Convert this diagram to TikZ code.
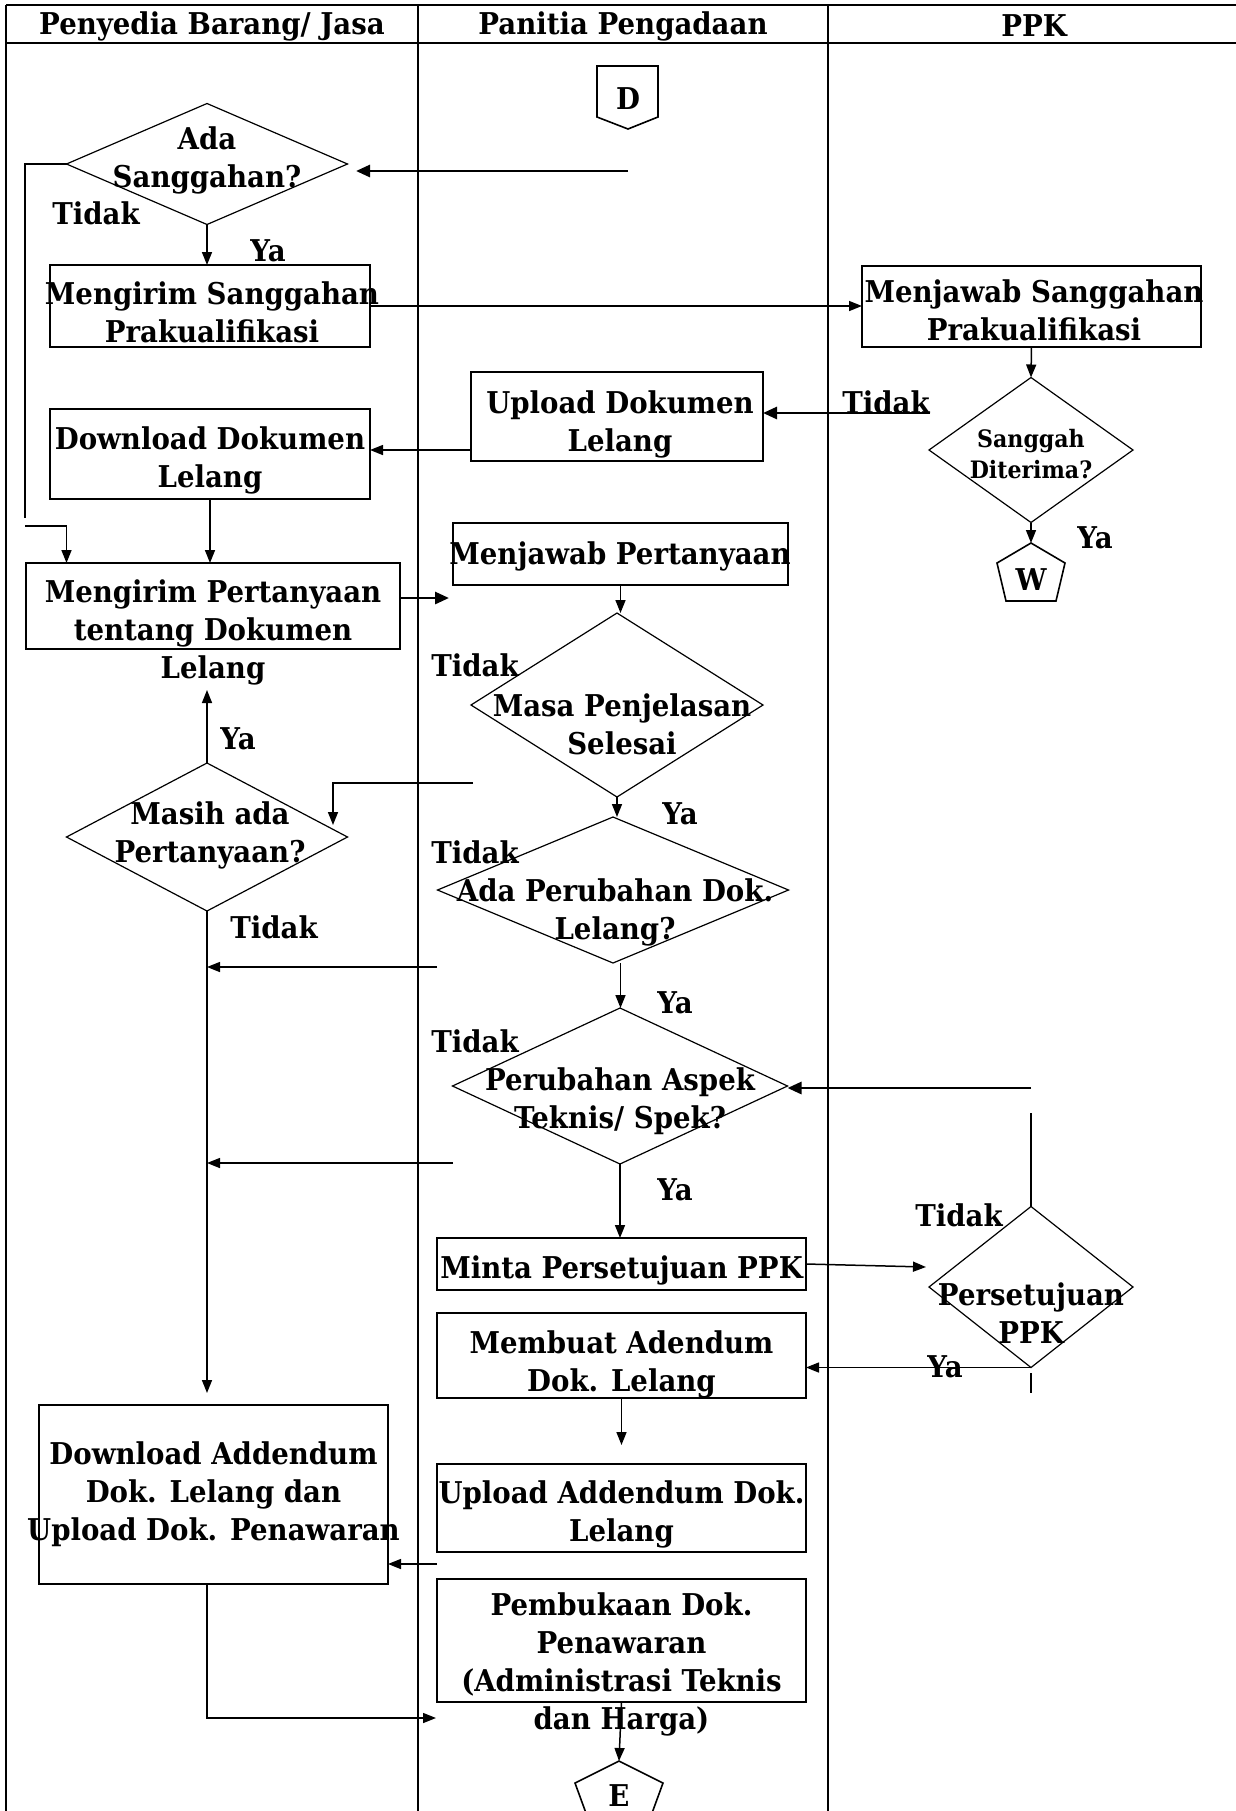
\documentclass[tikz,border=0pt]{standalone}
\usepackage{fontspec}
\setmainfont{DejaVu Serif}[FakeStretch=0.92]
\usetikzlibrary{shapes.geometric,arrows.meta,calc}

\begin{document}
\begin{tikzpicture}[x=0.5pt,y=-0.5pt,
  every node/.style={font=\bfseries\fontsize{15}{19}\selectfont, inner sep=0pt, outer sep=0pt},
  box/.style={draw, line width=1pt, rectangle},
  dia/.style={draw, diamond, line width=0.6pt},
  txt/.style={align=center, yshift=-1.5pt},
  small/.style={align=center, yshift=-1pt, font=\bfseries\fontsize{12}{15.5}\selectfont},
  head/.style={yshift=-1pt},
  arr/.style={-{Triangle[length=6.5pt,width=5pt]}, line width=0.75pt},
  heavy/.style={-{Triangle[length=7pt,width=6pt]}, line width=1.4pt},
  conn/.style={line width=0.75pt},
  lane/.style={line width=1pt}]

\useasboundingbox (0,0) rectangle (1236,1811);
\clip (0,0) rectangle (1236,1811);

% swimlane frame
\draw[lane] (6,5) -- (1240,5);
\draw[lane] (6,43) -- (1240,43);
\draw[lane] (6,5) -- (6,1815);
\draw[lane] (418,5) -- (418,1815);
\draw[lane] (828,5) -- (828,1815);
\node[head] (h1) at (212,24) {Penyedia Barang/ Jasa};
\node[head] (h2) at (623,24) {Panitia Pengadaan};
\node[head] (h3) at (1034,24) {PPK};

% off-page connectors
\draw[line width=0.8pt] (597,66) -- (658,66) -- (658,117) -- (628,129) -- (597,117) -- cycle;
\node (conD) at (628,99) {D};
\draw[line width=0.8pt] (1031,543) -- (1065,563) -- (1056,601) -- (1006,601) -- (997,563) -- cycle;
\coordinate (wtop) at (1031,543);
\node (conW) at (1031,580) {W};
\draw[line width=0.8pt] (619,1761) -- (663,1783) -- (644,1835) -- (594,1835) -- (575,1783) -- cycle;
\coordinate (etop) at (619,1761);
\node (conE) at (619,1796) {E};

% process boxes
\node[box, minimum width=160pt,   minimum height=41pt]   (b1)  at (210,306)    {};
\node[box, minimum width=169.5pt, minimum height=40.5pt] (b2)  at (1031.5,306.5) {};
\node[box, minimum width=146pt,   minimum height=44.5pt] (b3)  at (617,416.5)  {};
\node[box, minimum width=160pt,   minimum height=45pt]   (b4)  at (210,454)    {};
\node[box, minimum width=167.5pt, minimum height=31pt]   (b5)  at (620.5,554)  {};
\node[box, minimum width=187pt,   minimum height=43pt]   (b6)  at (213,606)    {};
\node[box, minimum width=184.5pt, minimum height=26pt]   (b7)  at (621.5,1264) {};
\node[box, minimum width=184.5pt, minimum height=42.5pt] (b8)  at (621.5,1355.5) {};
\node[box, minimum width=184.5pt, minimum height=44pt]   (b9)  at (621.5,1508) {};
\node[box, minimum width=174.5pt, minimum height=89.5pt] (b10) at (213.5,1494.5) {};
\node[box, minimum width=184.5pt, minimum height=61.5pt] (b11) at (621.5,1640.5) {};

% decisions
\node[dia, minimum width=140.5pt, minimum height=60.5pt] (d1) at (207,164)  {};
\node[dia, minimum width=102pt,   minimum height=72.5pt] (d2) at (1031,450) {};
\node[dia, minimum width=146pt,   minimum height=92pt]   (d3) at (617,705)  {};
\node[dia, minimum width=140.5pt, minimum height=74pt]   (d4) at (207,837)  {};
\node[dia, minimum width=175.5pt, minimum height=73pt]   (d5) at (613,890)  {};
\node[dia, minimum width=167.5pt, minimum height=78pt]   (d6) at (620,1086) {};
\node[dia, minimum width=102pt,   minimum height=80.5pt] (d7) at (1031,1287) {};

% free ends and helper points
\coordinate (dstart) at (628,171);
\coordinate (dend)   at (356,171);
\coordinate (lgap)   at (25,518);
\coordinate (lgap2)  at (25,526);
\coordinate (tstart) at (930,413);
\coordinate (y450)   at (0,450);
\coordinate (qend)   at (449,598);
\coordinate (m1)     at (473,783);
\coordinate (m2)     at (333,825);
\coordinate (yaup)   at (207,690);
\coordinate (dn)     at (210,1393);
\coordinate (r1)     at (437,967);
\coordinate (p1)     at (1031,1088);
\coordinate (r2)     at (453,1163);
\coordinate (p2)     at (926,1267);
\coordinate (p3)     at (1031,1113);
\coordinate (p4a)    at (1031,1373);
\coordinate (p4b)    at (1031,1393);
\coordinate (p5)     at (619,1445);
\coordinate (r3)     at (437,1564);
\coordinate (p6)     at (436,1718);

% connectors
\draw[heavy] (dstart) -- (dend);
\draw[conn] (d1.west) -| (lgap);
\draw[arr] (lgap2) -| (b6.north -| d1.west);
\draw[arr] (d1.south) -- (d1.south |- b1.north);
\draw[arr] (b1.east) -- (b1.east -| b2.west);
\draw[arr] (b2.south) -- (d2.north);
\draw[heavy] (tstart) -- (tstart -| b3.east);
\draw[arr] (b3.west |- y450) -- (b4.east |- y450);
\draw[arr] (b4.south) -- (b4.south |- b6.north);
\draw[arr] (d2.south) -- (wtop);
\draw[heavy] (b6.east |- qend) -- (qend);
\draw[arr] (b5.south) -- (b5.south |- d3.north);
\draw[arr] (d3.south) -- (d3.south |- d5.north);
\draw[arr] (m1) -| (m2);
\draw[arr] (d4.north) -- (yaup);
\draw[arr] (d4.south) -- (d4.south |- dn);
\draw[arr] (r1) -- (r1 -| d4.south);
\draw[arr] (d5.south -| b5.south) -- (b5.south |- d6.north);
\draw[heavy] (p1) -- (p1 -| d6.east);
\draw[arr] (r2) -- (r2 -| d4.south);
\draw[arr] (d6.south) -- (d6.south |- b7.north);
\draw[arr] (b7.east) -- (p2);
\draw[conn] (d7.north) -- (p3);
\draw[arr] (d7.south) -- (d7.south -| b8.east);
\draw[conn] (p4a) -- (p4b);
\draw[arr] (b8.south) -- (b8.south |- p5);
\draw[arr] (r3) -- (r3 -| b10.east);
\draw[arr] (b10.south -| d4.south) |- (p6);
\draw[arr] (b11.south) -- (etop);

% box texts
\node[txt] (t1)  at (212,309.5) {Mengirim Sanggahan\\Prakualifikasi};
\node[txt] (t2)  at (1034,307)  {Menjawab Sanggahan\\Prakualifikasi};
\node[txt] (t3)  at (620,421)   {Upload Dokumen\\Lelang};
\node[txt] (t4)  at (210,457.5) {Download Dokumen\\Lelang};
\node[txt] (t5)  at (620,553)   {Menjawab Pertanyaan};
\node[txt] (t6)  at (213,629)   {Mengirim Pertanyaan\\tentang Dokumen\\Lelang};
\node[txt] (t7)  at (621.5,1267) {Minta Persetujuan PPK};
\node[txt] (t8)  at (621.5,1361) {Membuat Adendum\\Dok. Lelang};
\node[txt] (t9)  at (621.5,1511) {Upload Addendum Dok.\\Lelang};
\node[txt] (t10) at (213.5,1491.5) {Download Addendum\\Dok. Lelang dan\\Upload Dok. Penawaran};
\node[txt] (t11) at (621.5,1661.5) {Pembukaan Dok.\\Penawaran\\(Administrasi Teknis\\dan Harga)};

% decision texts
\node[txt]   (e1) at (207,157)   {Ada\\Sanggahan?};
\node[small] (e2) at (1031,452.5) {Sanggah\\Diterima?};
\node[txt]   (e3) at (622,721.5) {Masa Penjelasan\\Selesai};
\node[txt]   (e4) at (210,832.5) {Masih ada\\Pertanyaan?};
\node[txt]   (e5) at (615,909)   {Ada Perubahan Dok.\\Lelang?};
\node[txt]   (e6) at (620,1098.5) {Perubahan Aspek\\Teknis/ Spek?};
\node[txt]   (e7) at (1031,1310) {Persetujuan\\PPK};

% branch labels
\node (l1)  at (96,213)   {Tidak};
\node (l2)  at (268,251)  {Ya};
\node (l3)  at (886,402)  {Tidak};
\node (l4)  at (1095,538) {Ya};
\node (l5)  at (475,665)  {Tidak};
\node (l6)  at (238,739)  {Ya};
\node (l7)  at (680,814)  {Ya};
\node (l8)  at (475,852)  {Tidak};
\node (l9)  at (274,927)  {Tidak};
\node (l10) at (675,1003) {Ya};
\node (l11) at (475,1041) {Tidak};
\node (l12) at (675,1190) {Ya};
\node (l13) at (959,1215) {Tidak};
\node (l14) at (945,1367) {Ya};
\end{tikzpicture}
\end{document}
